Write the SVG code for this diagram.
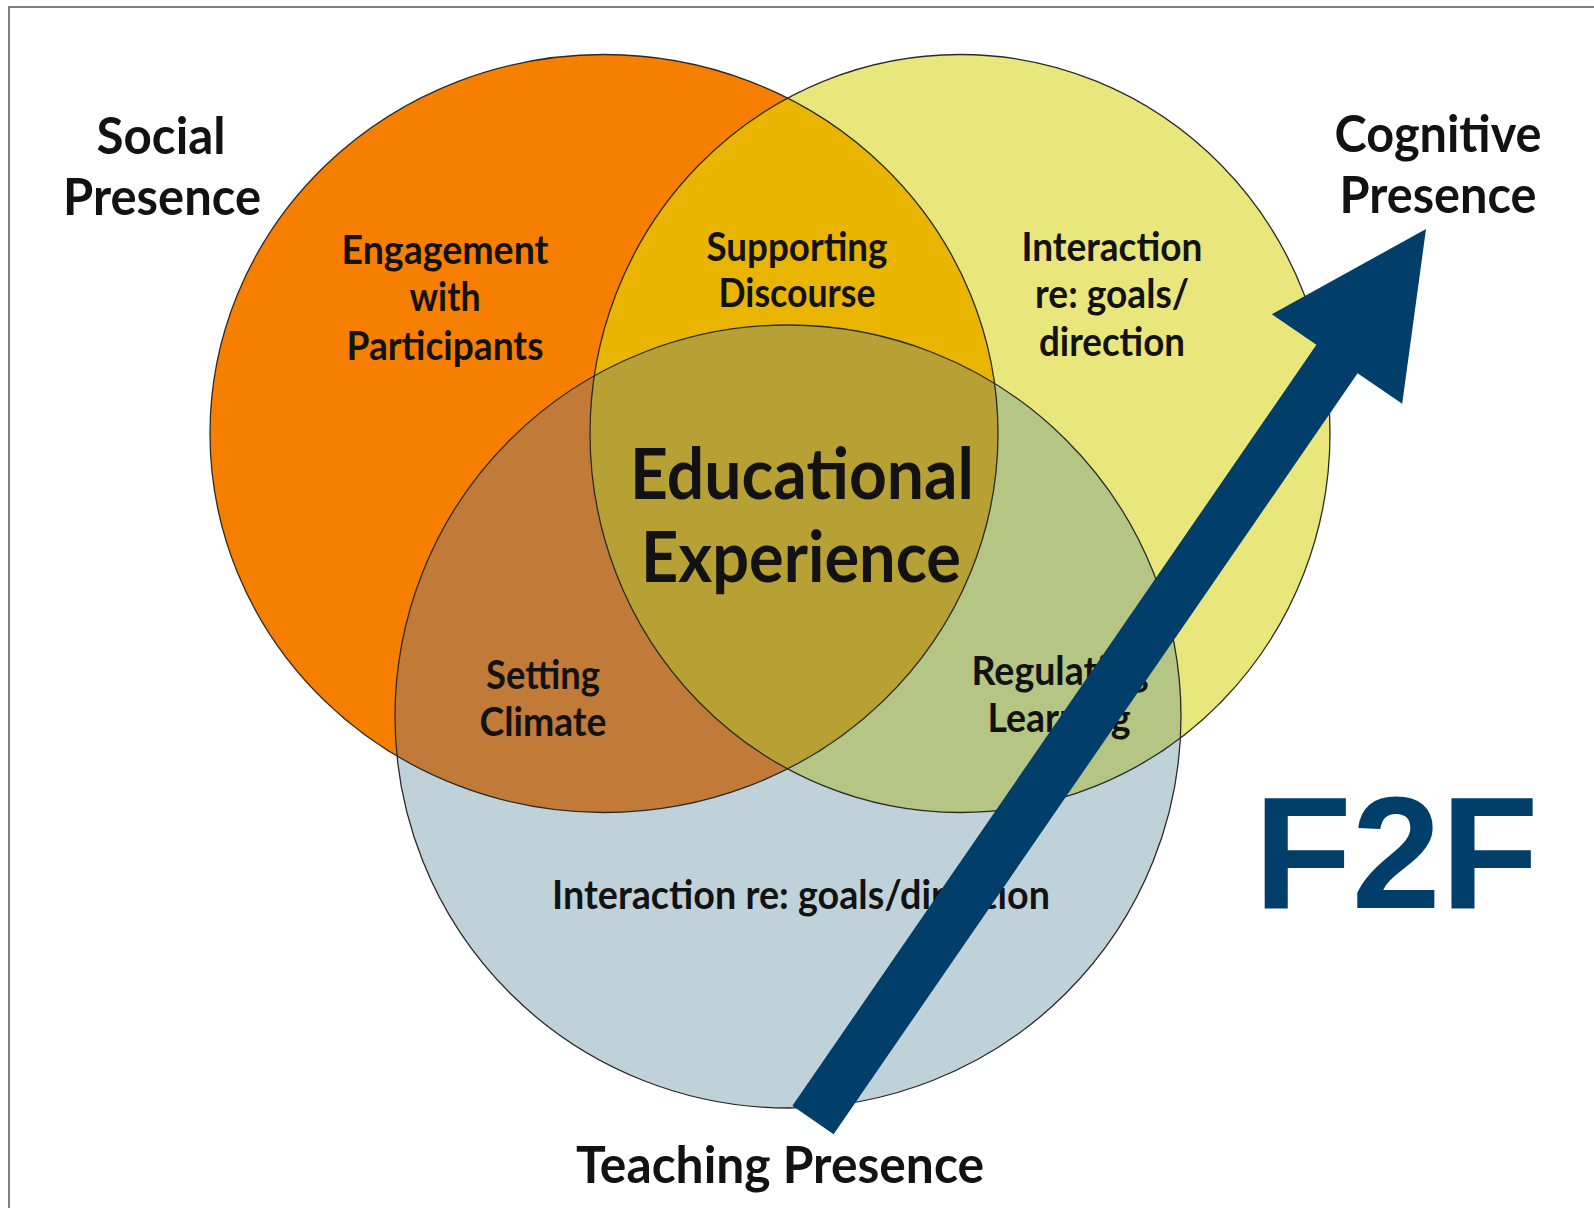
<svg xmlns="http://www.w3.org/2000/svg" width="1594" height="1208" viewBox="0 0 1594 1208">
  <style>
    .lbl { font-family: Lato, "Open Sans", "Liberation Sans", sans-serif; font-weight: 700; fill: #121212; text-anchor: middle; }
    .sm { font-size: 40px; }
    .ttl { font-size: 52px; }
    .big { font-size: 71px; }
    .ring { fill: none; stroke: #2a2a2a; stroke-width: 1.3; }
    .navy { fill: #023e6a; }
  </style>
  <defs>
    <!-- the three presences -->
    <ellipse id="eS" cx="604" cy="433.5" rx="394" ry="379"/>
    <ellipse id="eC" cx="960" cy="433.5" rx="370" ry="379"/>
    <ellipse id="eT" cx="788" cy="716.5" rx="393" ry="391.5"/>
    <clipPath id="cS"><use href="#eS"/></clipPath>
    <clipPath id="cC"><use href="#eC"/></clipPath>
    <clipPath id="cSC" clip-path="url(#cS)"><use href="#eC"/></clipPath>
  </defs>

  <rect width="1594" height="1208" fill="#ffffff"/>
  <rect x="9" y="7" width="1700" height="1300" fill="#ffffff" stroke="#555555" stroke-width="1.5"/>

  <g id="social-presence"><use href="#eS" fill="#f77f00"/></g>
  <g id="cognitive-presence"><use href="#eC" fill="#e9e77b"/></g>
  <g id="teaching-presence"><use href="#eT" fill="#bfd2d9"/></g>

  <g id="overlaps">
    <use href="#eC" clip-path="url(#cS)" fill="#e9b500"/>
    <use href="#eT" clip-path="url(#cS)" fill="#c27a39"/>
    <use href="#eT" clip-path="url(#cC)" fill="#b4c584"/>
    <use href="#eT" clip-path="url(#cSC)" fill="#b7a034"/>
  </g>

  <g id="outlines">
    <use href="#eS" class="ring"/>
    <use href="#eC" class="ring"/>
    <use href="#eT" class="ring"/>
  </g>

  <g id="social-label" class="lbl ttl">
    <text x="161" y="154" textLength="129" lengthAdjust="spacingAndGlyphs">Social</text>
    <text x="162" y="215" textLength="198" lengthAdjust="spacingAndGlyphs">Presence</text>
  </g>
  <g id="cognitive-label" class="lbl ttl">
    <text x="1438" y="152" textLength="207" lengthAdjust="spacingAndGlyphs">Cognitive</text>
    <text x="1438" y="213" textLength="197" lengthAdjust="spacingAndGlyphs">Presence</text>
  </g>
  <g id="teaching-label" class="lbl ttl">
    <text x="780" y="1183" textLength="408" lengthAdjust="spacingAndGlyphs">Teaching Presence</text>
  </g>

  <g id="engagement" class="lbl sm">
    <text x="445" y="264" textLength="207" lengthAdjust="spacingAndGlyphs">Engagement</text>
    <text x="445" y="311" textLength="71" lengthAdjust="spacingAndGlyphs">with</text>
    <text x="445" y="360" textLength="197" lengthAdjust="spacingAndGlyphs">Participants</text>
  </g>
  <g id="supporting-discourse" class="lbl sm">
    <text x="797" y="261" textLength="181" lengthAdjust="spacingAndGlyphs">Supporting</text>
    <text x="797" y="307" textLength="157" lengthAdjust="spacingAndGlyphs">Discourse</text>
  </g>
  <g id="cognitive-interaction" class="lbl sm">
    <text x="1112" y="261" textLength="181" lengthAdjust="spacingAndGlyphs">Interaction</text>
    <text x="1112" y="308" textLength="154" lengthAdjust="spacingAndGlyphs">re: goals/</text>
    <text x="1112" y="356" textLength="146" lengthAdjust="spacingAndGlyphs">direction</text>
  </g>
  <g id="educational-experience" class="lbl big">
    <text x="802" y="499" textLength="344" lengthAdjust="spacingAndGlyphs">Educational</text>
    <text x="801" y="582" textLength="320" lengthAdjust="spacingAndGlyphs">Experience</text>
  </g>
  <g id="setting-climate" class="lbl sm">
    <text x="543" y="689" textLength="114" lengthAdjust="spacingAndGlyphs">Setting</text>
    <text x="543" y="736" textLength="127" lengthAdjust="spacingAndGlyphs">Climate</text>
  </g>
  <g id="regulating-learning" class="lbl sm">
    <text x="1060" y="685" textLength="177" lengthAdjust="spacingAndGlyphs">Regulating</text>
    <text x="1059" y="732" textLength="143" lengthAdjust="spacingAndGlyphs">Learning</text>
  </g>
  <g id="teaching-interaction" class="lbl sm">
    <text x="801" y="909" textLength="498" lengthAdjust="spacingAndGlyphs">Interaction re: goals/direction</text>
  </g>

  <g id="connectors">
    <polygon class="navy" points="792.4,1105.8 1316.4,344.8 1271.8,314.3 1426,229 1402.2,403.7 1357.6,373.2 833.6,1134.2"/>
  </g>

  <g id="f2f">
    <text x="1254" y="908" class="navy" font-family="'Liberation Sans', Arial, sans-serif" font-weight="700" font-size="160">F2F</text>
  </g>
</svg>
